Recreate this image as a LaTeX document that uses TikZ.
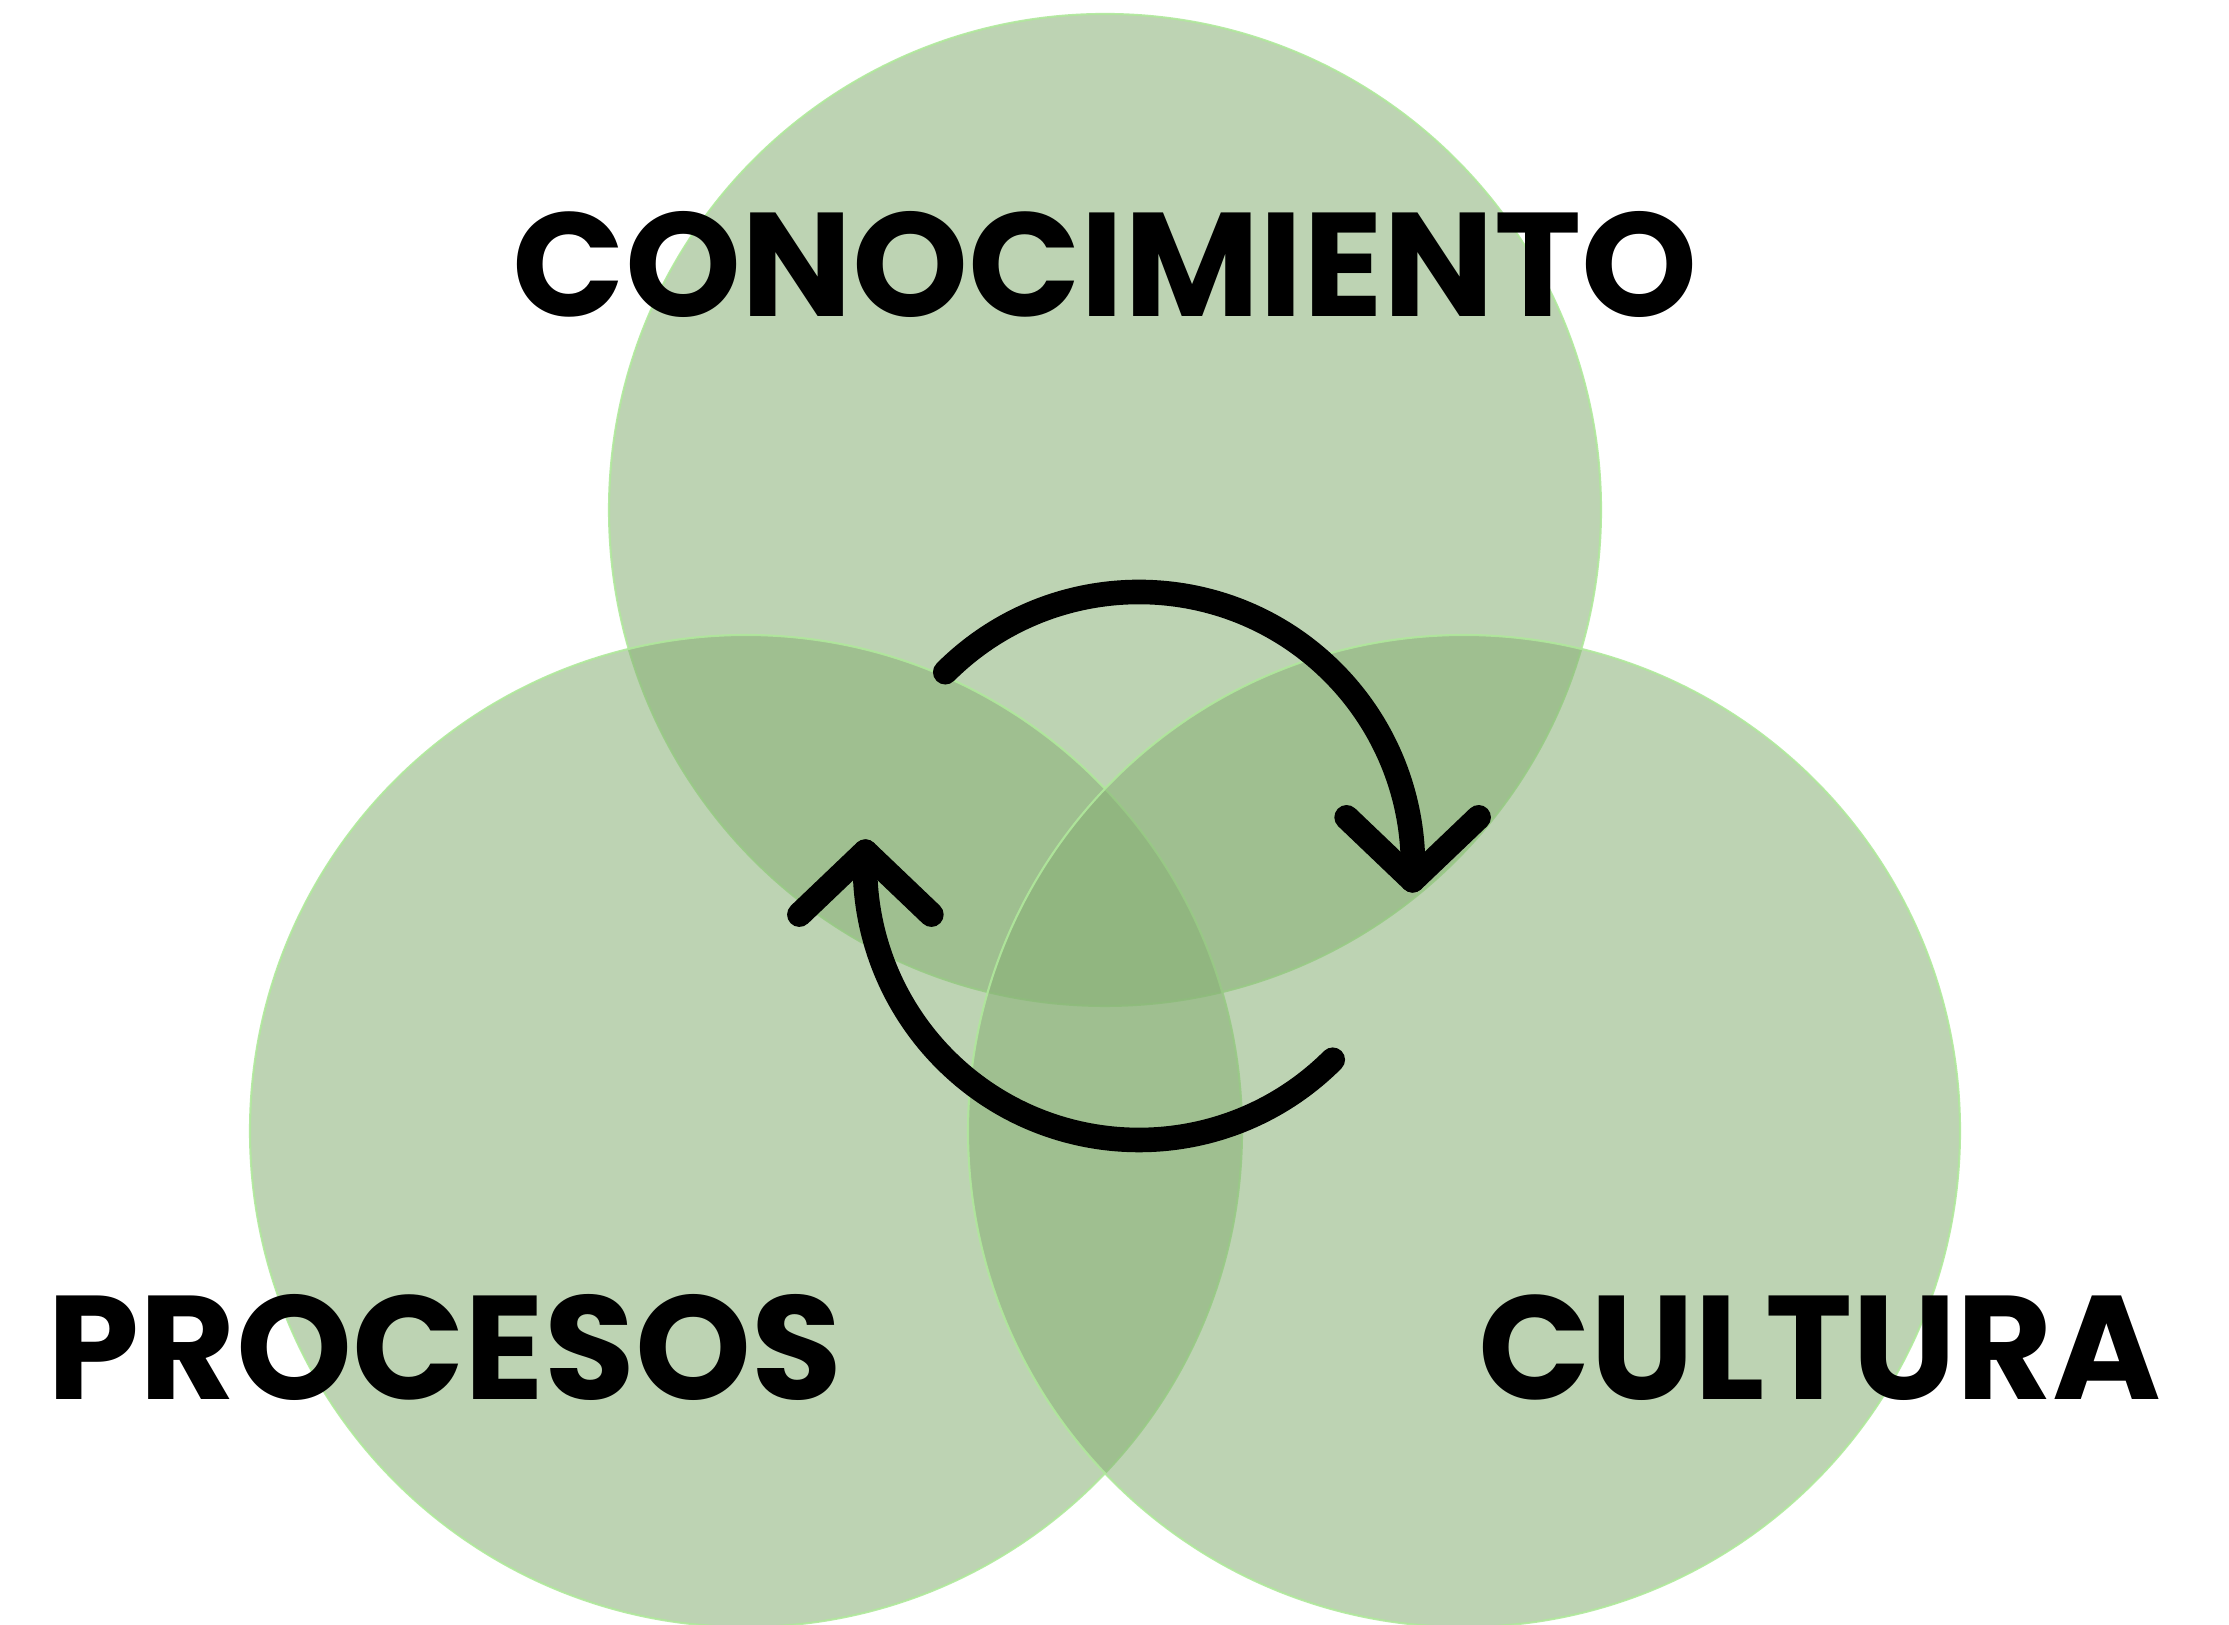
\documentclass[tikz,border=0pt]{standalone}
\usepackage{fontspec}
\setmainfont{Poppins}[BoldFont={* Bold}]
\definecolor{vennfill}{RGB}{134,176,116}
\definecolor{vennedge}{RGB}{176,232,156}
\begin{document}
\begin{tikzpicture}[x=0.1mm,y=0.1mm,
  venn/.style={fill=vennfill,fill opacity=0.545,draw=vennedge,draw opacity=0.9,line width=0.6pt},
  label/.style={font=\fontsize{42}{48}\selectfont\bfseries,text=black,inner sep=0,anchor=base},
  cyc/.style={line width=7pt,line cap=round,line join=round,draw=black}]
\clip (0,0) rectangle (2229,1625);
\useasboundingbox (0,0) rectangle (2229,1625);
\fill[white] (0,0) rectangle (2229,1625);
\coordinate (cK) at (1105,1115);
\coordinate (cP) at (746,494);
\coordinate (cC) at (1464,494);
\path[venn] (cK) circle[radius=496];
\path[venn] (cP) circle[radius=496];
\path[venn] (cC) circle[radius=496];
\node[label] (conoc) at (1105,1308) {CONOCIMIENTO};
\node[label] (proc) at (445,225) {PROCESOS};
\node[label] (cult) at (1820,225) {CULTURA};
% cycle arrows
\coordinate (ac) at (1139,759);
\draw[cyc] ([shift={(135:274)}]ac) arc[start angle=135,end angle=-3,radius=274] coordinate (tipR);
\draw[cyc] ([shift={(-66,63)}]tipR) -- (tipR) -- ([shift={(66,63)}]tipR);
\draw[cyc] ([shift={(-45:274)}]ac) arc[start angle=-45,end angle=-183,radius=274] coordinate (tipL);
\draw[cyc] ([shift={(-66,-63)}]tipL) -- (tipL) -- ([shift={(66,-63)}]tipL);
\end{tikzpicture}
\end{document}
